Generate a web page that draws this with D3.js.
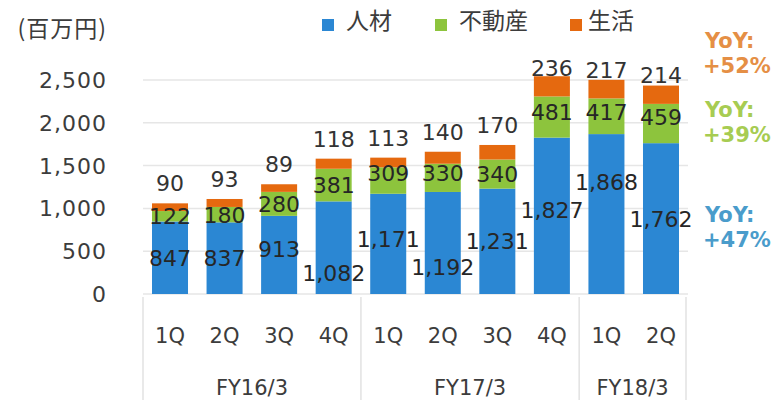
<!DOCTYPE html>
<html>
<head>
<meta charset="utf-8">
<script src="https://cdn.jsdelivr.net/npm/d3@7/dist/d3.min.js"></script>
<style>
  html, body { margin: 0; padding: 0; background: #fff; }
  svg { display: block; }
</style>
</head>
<body>
<svg id="chart" width="784" height="400"></svg>
<script>
// Quarterly sales by segment (million yen)
const quarters = ["1Q", "2Q", "3Q", "4Q", "1Q", "2Q", "3Q", "4Q", "1Q", "2Q"];
const fyLabels = ["FY16/3", "FY17/3", "FY18/3"];
const fyQuarterCounts = [4, 4, 2];
const seriesNames = ["人材", "不動産", "生活"];
const jinzai = [847, 837, 913, 1082, 1171, 1192, 1231, 1827, 1868, 1762];
const fudosan = [122, 180, 280, 381, 309, 330, 340, 481, 417, 459];
const seikatsu = [90, 93, 89, 118, 113, 140, 170, 236, 217, 214];
const yoyLabels = ["+47%", "+39%", "+52%"];
const yTicks = [0, 500, 1000, 1500, 2000, 2500];
const unitLabel = "(百万円)";

// Label nudges (px) so neighbouring labels don't collide
const jinzaiLabelShift = [0, 0, -6, 25, -5, 24, 0, -6, -32, 0];
const fudosanLabelShift = [0, 0, 0, 0, -7, -5, 0, -5, -4, -6];
const seikatsuLabelShift = [0, 0, 0, 0, 0, 0, 0, 12, 10, 10];

const colors = ["#2b87d3", "#8dc43d", "#e5690f"];
const yoyColors = ["#4a9ccb", "#a7cc52", "#e58f45"];
const textColor = "#3c3c3c";
const numFont = "'DejaVu Sans', Verdana, sans-serif";
const cjkFont = "'Noto Sans CJK JP', 'Noto Sans', sans-serif";

const svg = d3.select("#chart");

const rows = quarters.map((q, i) => ({
  i, q, "人材": jinzai[i], "不動産": fudosan[i], "生活": seikatsu[i]
}));

const x = d3.scaleBand()
  .domain(d3.range(quarters.length))
  .range([143, 688])
  .paddingInner(0.34)
  .paddingOuter(0.165);

const y = d3.scaleLinear().domain([0, 2500]).range([294, 80]);

// gridlines
svg.append("g")
  .selectAll("line")
  .data(yTicks)
  .join("line")
  .attr("x1", 143).attr("x2", 688)
  .attr("y1", d => y(d)).attr("y2", d => y(d))
  .attr("stroke", "#e6e6e6")
  .attr("stroke-width", 1.5);

// y axis tick labels
svg.append("g")
  .selectAll("text")
  .data(yTicks)
  .join("text")
  .attr("x", 107)
  .attr("y", d => y(d))
  .attr("dy", "0.36em")
  .attr("text-anchor", "end")
  .attr("font-family", numFont)
  .attr("font-size", 22)
  .attr("letter-spacing", 1)
  .attr("fill", textColor)
  .text(d3.format(","));

svg.append("text")
  .attr("x", 107).attr("y", 37)
  .attr("text-anchor", "end")
  .attr("font-family", cjkFont)
  .attr("font-size", 23)
  .attr("letter-spacing", 1)
  .attr("fill", textColor)
  .text(unitLabel);

// stacked bars
const stacked = d3.stack().keys(seriesNames)(rows);

svg.append("g")
  .selectAll("g")
  .data(stacked)
  .join("g")
  .attr("fill", (d, k) => colors[k])
  .selectAll("rect")
  .data(d => d)
  .join("rect")
  .attr("x", d => x(d.data.i))
  .attr("width", x.bandwidth())
  .attr("y", d => y(d[1]))
  .attr("height", d => y(d[0]) - y(d[1]));

// value labels
const labelGroup = svg.append("g")
  .attr("font-family", numFont)
  .attr("font-size", 22)
  .attr("text-anchor", "middle");

const cx = i => x(i) + x.bandwidth() / 2;
const fmt = d3.format(",");

// 人材 and 不動産: centred in their segment
[[0, jinzaiLabelShift], [1, fudosanLabelShift]].forEach(([k, shift]) => {
  labelGroup.append("g")
    .selectAll("text")
    .data(stacked[k])
    .join("text")
    .attr("x", d => cx(d.data.i))
    .attr("y", d => y((d[0] + d[1]) / 2) + shift[d.data.i])
    .attr("dy", "0.36em")
    .attr("fill", "#262626")
    .text(d => fmt(d[1] - d[0]));
});

// 生活: above the bar
labelGroup.append("g")
  .selectAll("text")
  .data(stacked[2])
  .join("text")
  .attr("x", d => cx(d.data.i))
  .attr("y", d => y(d[1]) - 20 + seikatsuLabelShift[d.data.i])
  .attr("dy", "0.36em")
  .attr("fill", "#333")
  .text(d => fmt(d[1] - d[0]));

// category axis: quarters
svg.append("g")
  .selectAll("text")
  .data(quarters)
  .join("text")
  .attr("x", (d, i) => cx(i))
  .attr("y", 343)
  .attr("text-anchor", "middle")
  .attr("font-family", numFont)
  .attr("font-size", 21)
  .attr("fill", textColor)
  .text(d => d);

// fiscal year groups and separators
let start = 0;
const bounds = [];
fyQuarterCounts.forEach(n => { bounds.push([start, start + n - 1]); start += n; });

const sepX = [143];
bounds.slice(0, -1).forEach(([a, b]) => sepX.push((cx(b) + cx(b + 1)) / 2));
sepX.push(686);

svg.append("g")
  .selectAll("line")
  .data(sepX)
  .join("line")
  .attr("x1", d => d).attr("x2", d => d)
  .attr("y1", 297).attr("y2", 400)
  .attr("stroke", "#e2e2e2")
  .attr("stroke-width", 1.5);

svg.append("g")
  .selectAll("text")
  .data(fyLabels)
  .join("text")
  .attr("x", (d, j) => (sepX[j] + sepX[j + 1]) / 2)
  .attr("y", 395)
  .attr("text-anchor", "middle")
  .attr("font-family", numFont)
  .attr("font-size", 21)
  .attr("fill", textColor)
  .text(d => d);

// legend
const legendX = [322, 435, 570];
const legend = svg.append("g")
  .selectAll("g")
  .data(seriesNames)
  .join("g")
  .attr("transform", (d, k) => `translate(${legendX[k]},0)`);
legend.append("rect")
  .attr("x", 0).attr("y", 19)
  .attr("width", 12).attr("height", 12)
  .attr("fill", (d, k) => colors[k]);
legend.append("text")
  .attr("x", (d, k) => k === 2 ? 18 : 24)
  .attr("y", 29)
  .attr("font-family", cjkFont)
  .attr("font-size", 23)
  .attr("fill", textColor)
  .text(d => d);

// year-on-year growth notes on the right
const yoyBaselines = [222, 117, 48];
const yoy = svg.append("g")
  .attr("font-family", numFont)
  .attr("font-weight", "bold")
  .attr("font-size", 21);
seriesNames.forEach((s, k) => {
  yoy.append("text")
    .attr("x", 705).attr("y", yoyBaselines[k])
    .attr("fill", yoyColors[k])
    .text("YoY:");
  yoy.append("text")
    .attr("x", 703).attr("y", yoyBaselines[k] + 25)
    .attr("fill", yoyColors[k])
    .text(yoyLabels[k]);
});
</script>
</body>
</html>
